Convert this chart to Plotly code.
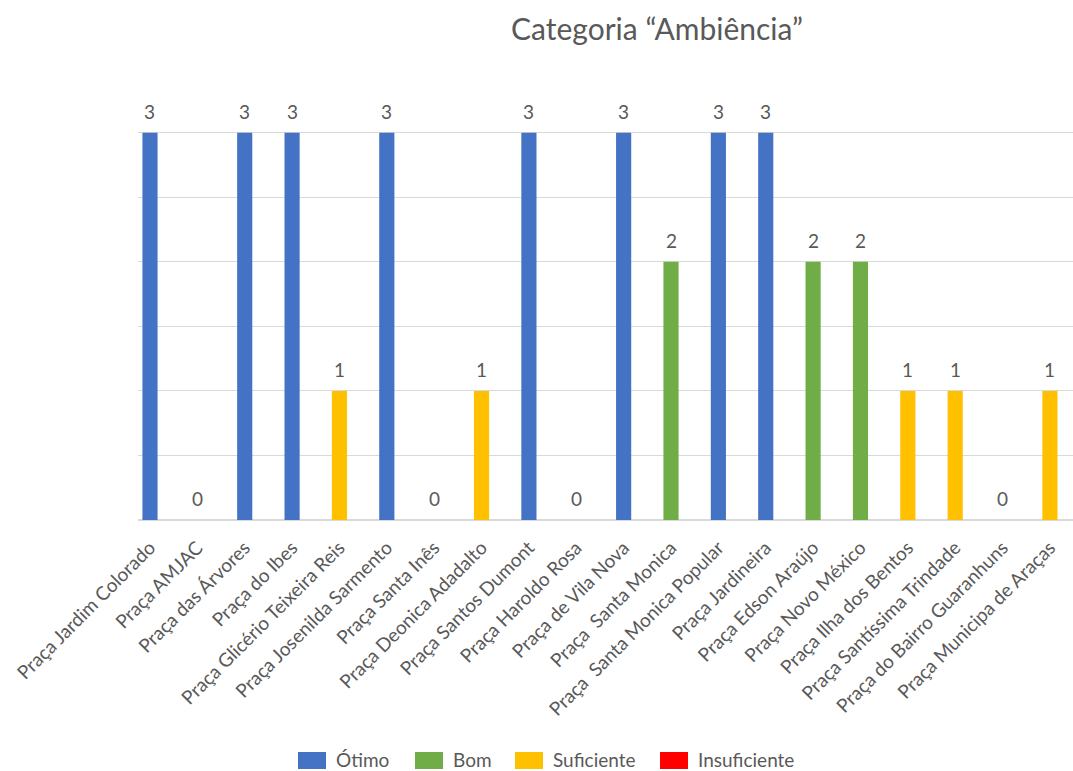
import plotly.graph_objects as go

categories = [
    "Praça Jardim Colorado", "Praça AMJAC", "Praça das Árvores", "Praça do Ibes",
    "Praça Glicério Teixeira Reis", "Praça Josenilda Sarmento", "Praça Santa Inês",
    "Praça Deonica Adadalto", "Praça Santos Dumont", "Praça Haroldo Rosa",
    "Praça de Vila Nova", "Praça\u00a0 Santa Monica", "Praça\u00a0 Santa Monica Popular",
    "Praça Jardineira", "Praça Edson Araújo", "Praça Novo México",
    "Praça Ilha dos Bentos", "Praça Santíssima Trindade", "Praça do Bairro Guaranhuns",
    "Praça Municipa de Araças",
]
scores = [3, 0, 3, 3, 1, 3, 0, 1, 3, 0, 3, 2, 3, 3, 2, 2, 1, 1, 0, 1]
series_names = ["Ótimo", "Bom", "Suficiente", "Insuficiente"]
series_scores = [3, 2, 1, 0]
series_colors = ["#4472C4", "#70AD47", "#FFC000", "#FF0000"]

FONT = "Lato"
TXT = "#595959"
xs = list(range(len(categories)))

fig = go.Figure()
for name, sc, col in zip(series_names, series_scores, series_colors):
    ys = [s if s == sc else None for s in scores]
    fig.add_trace(go.Bar(x=xs, y=ys, name=name, marker=dict(color=col, line=dict(width=0)),
                         width=0.32, showlegend=False))

for x, s in zip(xs, scores):
    fig.add_annotation(x=x, y=s, text=str(s), showarrow=False, yanchor="bottom",
                       yshift=8, font=dict(family=FONT, size=19, color=TXT))

# manual legend (pixel positions converted to paper coords of the plot area)
L, R, T, B = 138, 1073, 68, 520
def px(X):
    return (X - L) / (R - L)
def py(Y):
    return (B - Y) / (B - T)

legend_box_x = [298, 415, 515, 660]
for name, col, bx in zip(series_names, series_colors, legend_box_x):
    fig.add_shape(type="rect", xref="paper", yref="paper",
                  x0=px(bx), x1=px(bx + 28), y0=py(769), y1=py(752),
                  fillcolor=col, line=dict(width=0), layer="above")
    fig.add_annotation(xref="paper", yref="paper", x=px(bx + 36), y=py(759),
                       text=name, showarrow=False, xanchor="left", yanchor="middle",
                       font=dict(family=FONT, size=19, color=TXT))

fig.update_layout(
    width=1073, height=771,
    barmode="overlay",
    paper_bgcolor="white", plot_bgcolor="white",
    margin=dict(l=L, r=1073 - R, t=T, b=771 - B),
    title=dict(text="Categoria “Ambiência”", x=657 / 1073, xref="container", xanchor="center",
               y=1 - 29 / 771, yanchor="middle",
               font=dict(family=FONT, size=30, color=TXT)),
    showlegend=False,
    font=dict(family=FONT, color=TXT),
)
fig.update_xaxes(range=[-0.253, 19.487], tickvals=xs, ticktext=categories, tickangle=-45,
                 showgrid=False, showline=False, zeroline=False, ticks="",
                 ticklabelstandoff=12,
                 tickfont=dict(family=FONT, size=19, color=TXT))
fig.update_yaxes(range=[0, 3.502], dtick=0.5, showticklabels=False, showgrid=True,
                 gridcolor="#D9D9D9", gridwidth=1, zeroline=True, zerolinecolor="#D9D9D9",
                 showline=False, ticks="")

fig.write_html("out.html")
